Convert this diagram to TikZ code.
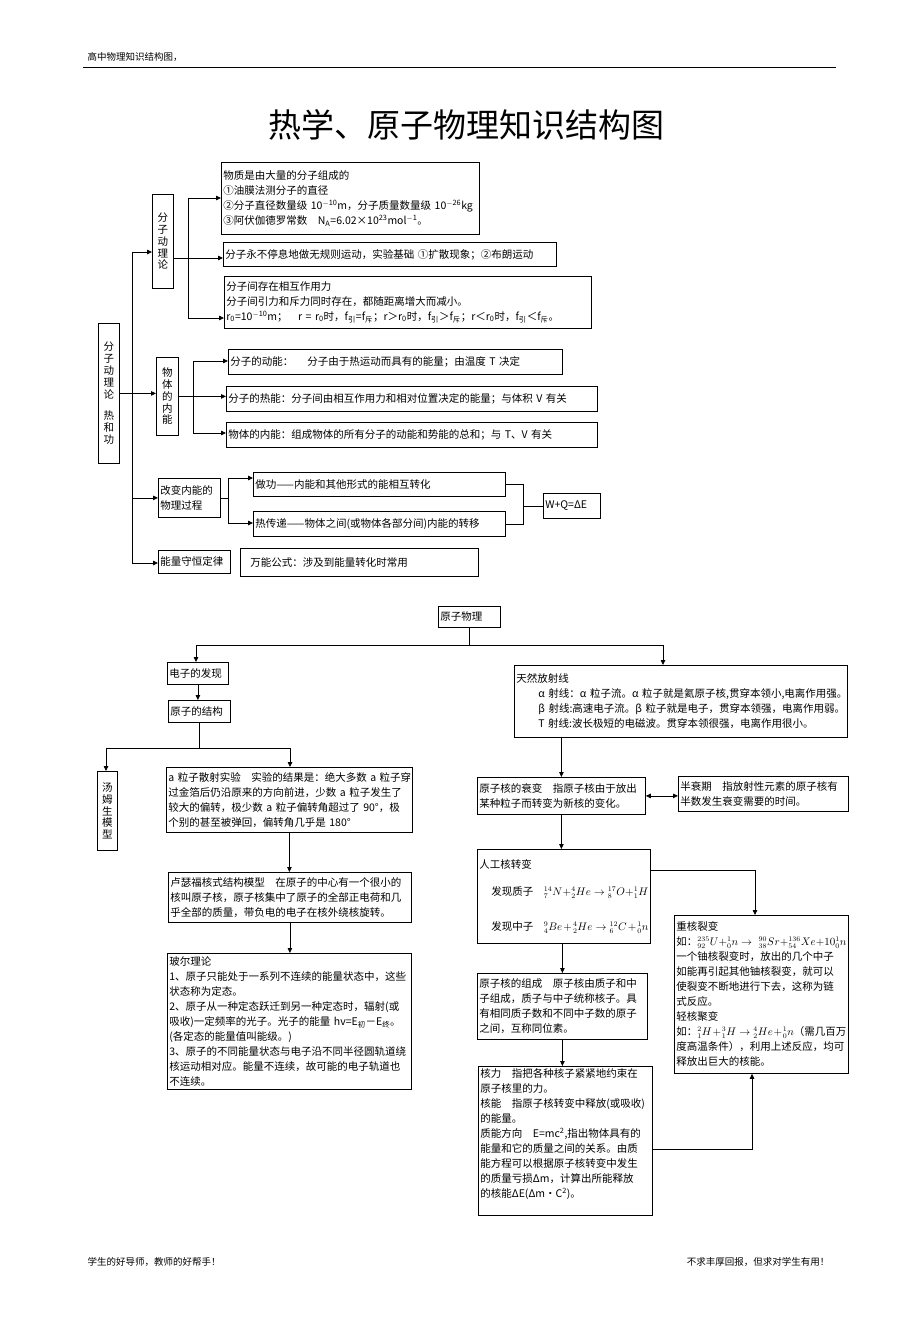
\documentclass[tikz,border=0pt]{standalone}
\usepackage{fontspec}
\setmainfont{Noto Sans CJK SC}
\usetikzlibrary{arrows.meta,positioning,calc}
\newcommand{\boxfont}{\fontsize{10.5}{15}\selectfont}
\newcommand{\upfont}{\fontsize{10.5}{11.8}\selectfont}
\newcommand{\eqfont}{\fontsize{10.5}{15}\selectfont}
\tikzset{%
  box/.style={%
    draw,
    line width=0.8pt,
    inner sep=2pt,
    anchor=north west,
    align=left,
    font=\boxfont
  }
}
\tikzset{%
  upright box/.style={%
    draw,
    line width=0.8pt,
    inner sep=0pt,
    anchor=north west,
    align=center,
    font=\upfont
  }
}
\tikzset{%
  branch/.style={%
    line width=0.8pt
  }
}
\tikzset{%
  branch arrow/.style={%
    line width=0.8pt,
    -{Triangle[length=5pt,width=4.5pt]}
  }
}
\begin{document}
\begin{tikzpicture}[x=1pt,y=-1pt]
  \useasboundingbox (0,0) rectangle (920,1329);
  \fill[white] (0,0) rectangle (920,1329);
  % page head and foot
  \node[anchor=west, font=\fontsize{9.5}{11}\selectfont] (header) at (84,57) {高中物理知识结构图，};
  \coordinate (rule l) at (83,67);
  \coordinate (rule r) at (836,67);
  \draw[branch] (rule l) -- (rule r);
  \node[font=\fontsize{33}{36}\selectfont] (title) at (466,125) {热学、原子物理知识结构图};
  \node[anchor=west, font=\fontsize{9.5}{11}\selectfont] (foot l) at (84,1262) {学生的好导师，教师的好帮手！};
  \node[anchor=east, font=\fontsize{9.5}{11}\selectfont] (foot r) at (833,1262) {不求丰厚回报，但求对学生有用！};
  % heat part
  \node[upright box, minimum width=21, minimum height=140] (root) at (98,323) {分\\子\\动\\理\\论\\[10pt]热\\和\\功};
  \node[upright box, minimum width=21, minimum height=94] (kinetic) at (152,194) {分\\子\\动\\理\\论};
  \node[box, text width=254, minimum height=72] (matter) at (221,162) {物质是由大量的分子组成的\\①油膜法测分子的直径\\②分子直径数量级~10\textsuperscript{$-$10}m，分子质量数量级~10\textsuperscript{$-$26}kg\\③阿伏伽德罗常数　N\textsubscript{A}=6.02×10\textsuperscript{23}mol\textsuperscript{$-$1}。};
  \node[box, text width=329, minimum height=24] (motion) at (223,242) {分子永不停息地做无规则运动，实验基础~①扩散现象；②布朗运动};
  \node[box, text width=363, minimum height=52] (force2) at (224,276) {分子间存在相互作用力\\分子间引力和斥力同时存在，都随距离增大而减小。\\r\textsubscript{0}=10\textsuperscript{$-$10}m；　r~=~r\textsubscript{0}时，f\textsubscript{引}=f\textsubscript{斥}；r＞r\textsubscript{0}时，f\textsubscript{引}＞f\textsubscript{斥}；r＜r\textsubscript{0}时，f\textsubscript{引}＜f\textsubscript{斥}。};
  \node[upright box, minimum width=22, minimum height=78] (inner) at (156,357) {物\\体\\的\\内\\能};
  \node[box, text width=330, minimum height=25] (kin e) at (228,349) {分子的动能：　 分子由于热运动而具有的能量；由温度~T~决定};
  \node[box, text width=367, minimum height=25] (pot e) at (226,386) {分子的热能：分子间由相互作用力和相对位置决定的能量；与体积~V~有关};
  \node[box, text width=367, minimum height=25] (int e) at (226,422) {物体的内能：组成物体的所有分子的动能和势能的总和；与~T、V~有关};
  \node[box, text width=58, minimum height=39] (change) at (158,478) {改变内能的\\物理过程};
  \node[box, text width=248, minimum height=24] (work) at (253,472) {做功——内能和其他形式的能相互转化};
  \node[box, text width=248, minimum height=25] (heat) at (253,511) {热传递——物体之间(或物体各部分间)内能的转移};
  \node[box, text width=53, minimum height=25] (wq) at (543,493) {W+Q=ΔE};
  \node[box, text width=68, minimum height=23] (conserve) at (158,550) {能量守恒定律};
  \node[box, text width=234, minimum height=28] (formula) at (240,548) {\hspace*{8pt}万能公式：涉及到能量转化时常用};
  \coordinate (trunk top) at (132,252);
  \coordinate (trunk bot) at (132,563);
  \draw[branch arrow] (root.east) -- (root.east -| inner.west);
  \draw[branch] (trunk top) -- (trunk bot);
  \draw[branch arrow] (trunk top) -- (trunk top -| kinetic.west);
  \draw[branch arrow] (trunk bot |- change.west) -- (change.west);
  \draw[branch arrow] (trunk bot) -- (trunk bot -| conserve.west);
  \coordinate (k top) at (188,198);
  \coordinate (k mid) at (188,258);
  \coordinate (k bot) at (188,318);
  \draw[branch] (kinetic.east |- k mid) -- (k mid);
  \draw[branch] (k top) -- (k bot);
  \draw[branch arrow] (k top) -- (k top -| matter.west);
  \draw[branch arrow] (k mid) -- (k mid -| motion.west);
  \draw[branch arrow] (k bot) -- (k bot -| force2.west);
  \coordinate (i top) at (193,361);
  \coordinate (i bot) at (193,433);
  \draw[branch] (inner.east) -- (inner.east -| i top);
  \draw[branch] (i top) -- (i bot);
  \draw[branch arrow] (i top) -- (i top -| kin e.west);
  \draw[branch arrow] (inner.east -| i top) -- (inner.east -| pot e.west);
  \draw[branch arrow] (i bot) -- (i bot -| int e.west);
  \coordinate (c top) at (228,478);
  \coordinate (c bot) at (228,523);
  \draw[branch] (change.east) -- (change.east -| c top);
  \draw[branch] (c top) -- (c bot);
  \draw[branch arrow] (c top) -- (c top -| work.west);
  \draw[branch arrow] (c bot) -- (c bot -| heat.west);
  \coordinate (m top) at (523,485);
  \draw[branch] (work.east) -- (work.east -| m top) -- (heat.east -| m top) -- (heat.east);
  \draw[branch] (wq.west -| m top) -- (wq.west);
  % atom part
  \node[box, text width=58, minimum height=21] (atom) at (438,606) {原子物理};
  \node[box, text width=57, minimum height=22] (electron) at (167,662) {电子的发现};
  \node[box, text width=58, minimum height=22] (structure) at (168,700) {原子的结构};
  \node[upright box, minimum width=20, minimum height=79] (thomson) at (97,771) {汤\\姆\\生\\模\\型};
  \node[box, text width=242, minimum height=65] (alpha) at (166,767) {a~粒子散射实验　实验的结果是：绝大多数~a~粒子穿\\过金箔后仍沿原来的方向前进，少数~a~粒子发生了\\较大的偏转，极少数~a~粒子偏转角超过了~90°，极\\个别的甚至被弹回，偏转角几乎是~180°};
  \node[box, text width=239, minimum height=50] (rutherford) at (168,872) {卢瑟福核式结构模型　在原子的中心有一个很小的\\核叫原子核，原子核集中了原子的全部正电荷和几\\乎全部的质量，带负电的电子在核外绕核旋转。};
  \node[box, text width=240, minimum height=136] (bohr) at (167,953) {玻尔理论\\1、原子只能处于一系列不连续的能量状态中，这些\\状态称为定态。\\2、原子从一种定态跃迁到另一种定态时，辐射(或\\吸收)一定频率的光子。光子的能量~hv=E\textsubscript{初}－E\textsubscript{终}。\\(各定态的能量值叫能级。)\\3、原子的不同能量状态与电子沿不同半径圆轨道绕\\核运动相对应。能量不连续，故可能的电子轨道也\\不连续。};
  \node[box, text width=329, minimum height=72] (radio) at (514,665) {天然放射线\\\hspace*{22pt}α~射线：α~粒子流。α~粒子就是氦原子核,贯穿本领小,电离作用强。\\\hspace*{22pt}β~射线:高速电子流。β~粒子就是电子，贯穿本领强，电离作用弱。\\\hspace*{22pt}T~射线:波长极短的电磁波。贯穿本领很强，电离作用很小。};
  \node[box, text width=164, minimum height=37] (decay) at (477,777) {原子核的衰变　指原子核由于放出\\某种粒子而转变为新核的变化。};
  \node[box, text width=166, minimum height=35] (half) at (678,776) {半衰期　指放射性元素的原子核有\\半数发生衰变需要的时间。};
  \node[box, text width=169, minimum height=94] (artificial) at (477,849) {人工核转变\\[12pt]\hspace*{12pt}发现质子\quad {\eqfont${}^{14}_{7}N+{}^{4}_{2}He\rightarrow{}^{17}_{8}O+{}^{1}_{1}H$}\\[20pt]\hspace*{12pt}发现中子\quad {\eqfont${}^{9}_{4}Be+{}^{4}_{2}He\rightarrow{}^{12}_{6}C+{}^{1}_{0}n$}};
  \node[box, text width=170, minimum height=158] (fission) at (674,915) {重核裂变\\如：{\eqfont${}^{235}_{92}U+{}^{1}_{0}n\rightarrow\ {}^{90}_{38}Sr+{}^{136}_{54}Xe+10{}^{1}_{0}n$}\\一个铀核裂变时，放出的几个中子\\如能再引起其他铀核裂变，就可以\\使裂变不断地进行下去，这称为链\\式反应。\\轻核聚变\\如：{\eqfont${}^{2}_{1}H+{}^{3}_{1}H\rightarrow{}^{4}_{2}He+{}^{1}_{0}n$}（需几百万\\度高温条件），利用上述反应，均可\\释放出巨大的核能。};
  \node[box, text width=166, minimum height=66] (compose) at (477,973) {原子核的组成　原子核由质子和中\\子组成，质子与中子统称核子。具\\有相同质子数和不同中子数的原子\\之间，互称同位素。};
  \node[box, text width=170, minimum height=149] (nforce) at (478,1066) {核力　指把各种核子紧紧地约束在\\原子核里的力。\\核能　指原子核转变中释放(或吸收)\\的能量。\\质能方向　E=mc\textsuperscript{2},指出物体具有的\\能量和它的质量之间的关系。由质\\能方程可以根据原子核转变中发生\\的质量亏损Δm，计算出所能释放\\的核能ΔE(Δm・C\textsuperscript{2})。\\\mbox{}};
  \coordinate (a left) at (196,645);
  \coordinate (a right) at (663,645);
  \draw[branch] (atom.south) -- (atom.south |- a left);
  \draw[branch] (a left) -- (a right);
  \draw[branch arrow] (a left) -- (a left |- electron.north);
  \draw[branch arrow] (a right) -- (a right |- radio.north);
  \draw[branch arrow] (electron.south) -- (electron.south |- structure.north);
  \coordinate (s left) at (106,748);
  \coordinate (s right) at (290,748);
  \draw[branch] (structure.south) -- (structure.south |- s left);
  \draw[branch] (s left) -- (s right);
  \draw[branch arrow] (s left) -- (s left |- thomson.north);
  \draw[branch arrow] (s right) -- (s right |- alpha.north);
  \draw[branch arrow] (alpha.south) -- (alpha.south |- rutherford.north);
  \draw[branch arrow] (rutherford.south) -- (rutherford.south |- bohr.north);
  \draw[branch arrow] (decay.north |- radio.south) -- (decay.north);
  \draw[branch, {Triangle[length=5pt,width=4.5pt]}-{Triangle[length=5pt,width=4.5pt]}] (decay.east) -- (decay.east -| half.west);
  \draw[branch arrow] (decay.south) -- (decay.south |- artificial.north);
  \coordinate (f corner) at (755,870);
  \draw[branch arrow] (artificial.east |- f corner) -- (f corner) -- (f corner |- fission.north);
  \draw[branch arrow] (compose.north |- artificial.south) -- (compose.north);
  \draw[branch arrow] (compose.south) -- (compose.south |- nforce.north);
  \coordinate (u corner) at (752,1149);
  \draw[branch arrow] (nforce.east |- u corner) -- (u corner) -- (u corner |- fission.south);
\end{tikzpicture}
\end{document}
